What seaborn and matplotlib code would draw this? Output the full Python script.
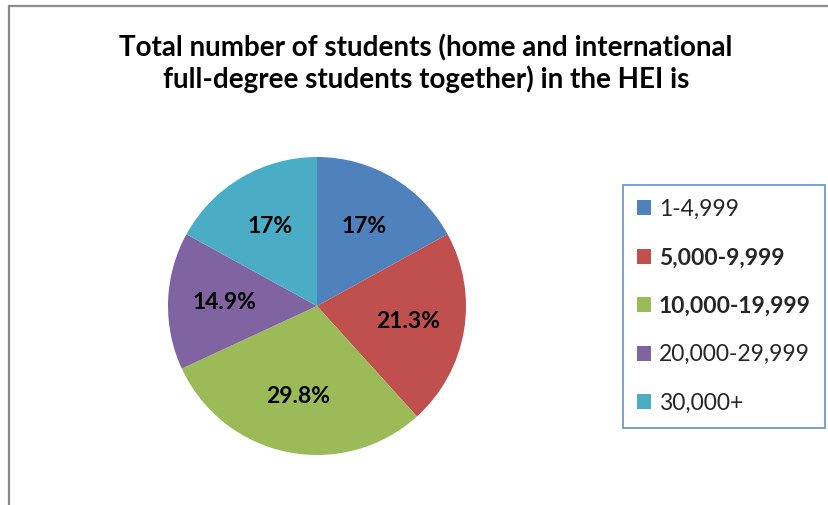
import matplotlib
matplotlib.use("Agg")
import matplotlib.pyplot as plt
from matplotlib.patches import Rectangle
import numpy as np
import seaborn as sns

categories = ["1-4,999", "5,000-9,999", "10,000-19,999", "20,000-29,999", "30,000+"]
values = [17, 21.3, 29.8, 14.9, 17]
pct_labels = ["17%", "21.3%", "29.8%", "14.9%", "17%"]
colors = ["#4F81BD", "#C0504D", "#9BBB59", "#8064A2", "#4BACC6"]
bold_legend = [False, True, True, False, False]
title = "Total number of students (home and international\nfull-degree students together) in the HEI is"

sns.set_theme(style="white")
plt.rcParams["font.family"] = ["Lato", "DejaVu Sans"]

W, H = 829, 505
fig = plt.figure(figsize=(W / 100, H / 100), dpi=100)
fig.patch.set_facecolor("white")

# outer chart frame
fig.add_artist(Rectangle((9.5 / W, -0.1), 1.2, 1 - 6 / H + 0.1, transform=fig.transFigure,
                         fill=False, edgecolor="#8C8C8C", linewidth=1.6))

cx, cy, r = 317, 306, 149
ax = fig.add_axes([(cx - r) / W, (H - cy - r) / H, 2 * r / W, 2 * r / H])
pal = sns.color_palette(colors)
wedges, texts = ax.pie(values, colors=pal, startangle=90, counterclock=False,
                       radius=1.0, wedgeprops=dict(linewidth=0))
for w, lab in zip(wedges, pct_labels):
    ang = np.deg2rad((w.theta1 + w.theta2) / 2)
    ax.text(0.62 * np.cos(ang), 0.62 * np.sin(ang), lab, ha="center", va="center",
            fontsize=16.5, fontweight="bold", color="black")
ax.set_xlim(-1, 1)
ax.set_ylim(-1, 1)
ax.set_aspect("equal")
ax.axis("off")

fig.text(426 / W, 1 - 64 / H, title, ha="center", va="center", fontsize=20,
         fontweight="bold", linespacing=1.18, color="black")

leg = fig.legend(wedges, categories, loc="upper left",
                 bbox_to_anchor=(623 / W, 1 - 185 / H), bbox_transform=fig.transFigure,
                 borderaxespad=0, frameon=True, fancybox=False, fontsize=16.5,
                 handlelength=0.62, handleheight=0.62, handletextpad=0.35,
                 labelspacing=1.2, borderpad=0.6)
leg.get_frame().set_edgecolor("#4F81BD")
leg.get_frame().set_linewidth(1.3)
for t, b in zip(leg.get_texts(), bold_legend):
    if b:
        t.set_fontweight("bold")

fig.savefig("out.png", dpi=100, facecolor="white")
